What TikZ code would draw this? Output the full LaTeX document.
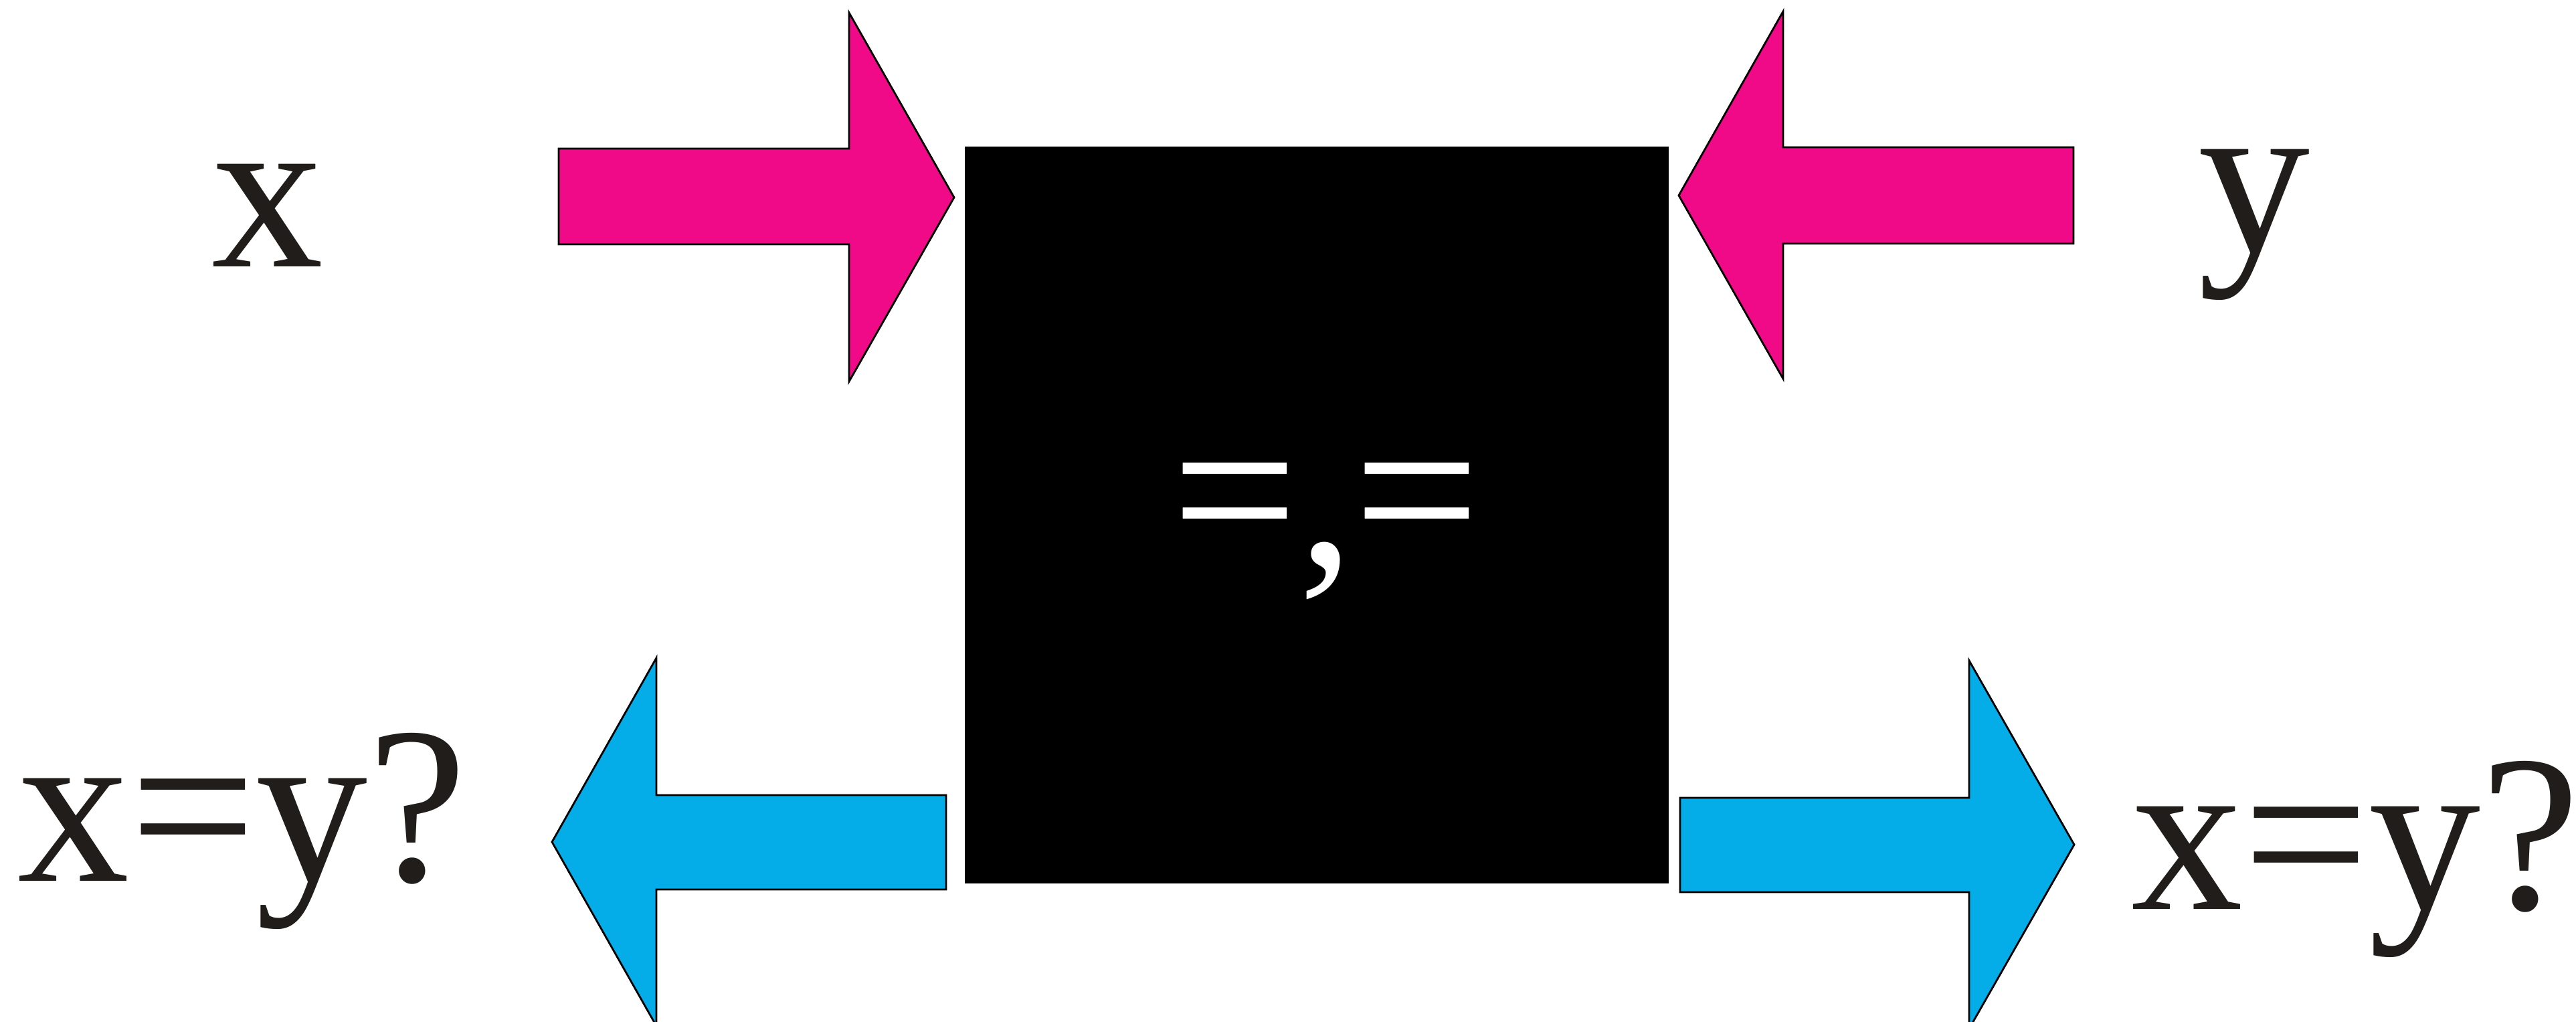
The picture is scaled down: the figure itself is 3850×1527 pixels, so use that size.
\documentclass[tikz,border=0pt]{standalone}
\usepackage{fontspec}
\setmainfont{LiberationSerif-Regular.ttf}
\definecolor{pinkarrow}{RGB}{240,10,135}
\definecolor{bluearrow}{RGB}{4,172,232}
\definecolor{inktext}{RGB}{32,29,26}
\begin{document}
\begin{tikzpicture}[x=0.01cm,y=-0.01cm,
  outl/.style={draw=black,line width=0.8pt,line join=miter},
  lbl/.style={inner sep=0pt,outer sep=0pt,anchor=base west,text=inktext,font=\fontsize{95}{110}\selectfont},
  boxtext/.style={inner sep=0pt,outer sep=0pt,anchor=base,text=white,font=\fontsize{95}{110}\selectfont},
  blackbox/.style={draw=black,fill=black,line width=0.8pt,minimum width=10.48cm,minimum height=10.97cm,inner sep=0pt,outer sep=0pt}]
\useasboundingbox (0,0) rectangle (3850,1527);
% central black box
\node[blackbox] (box) at (1968,769.5) {};
\node[boxtext] (eqs) at (1982,844) {=,=};
% pink input arrows
\draw[outl,fill=pinkarrow] (835,222) -- (1269,222) -- (1269,19) -- (1426,295) -- (1269,570) -- (1269,365) -- (835,365) -- cycle;
\draw[outl,fill=pinkarrow] (3099,220) -- (2665,220) -- (2665,17) -- (2509,292) -- (2665,566) -- (2665,364) -- (3099,364) -- cycle;
% blue output arrows
\draw[outl,fill=bluearrow] (1414,1188) -- (981,1188) -- (981,983) -- (825,1258) -- (981,1533) -- (981,1329) -- (1414,1329) -- cycle;
\draw[outl,fill=bluearrow] (2511,1192) -- (2943,1192) -- (2943,987) -- (3100,1262) -- (2943,1537) -- (2943,1333) -- (2511,1333) -- cycle;
% labels
\node[lbl] (inx) at (316,398) {x};
\node[lbl] (iny) at (3285,376) {y};
\node[lbl] (outl) at (27,1316) {x=y?};
\node[lbl] (outr) at (3185,1358) {x=y?};
\end{tikzpicture}
\end{document}
